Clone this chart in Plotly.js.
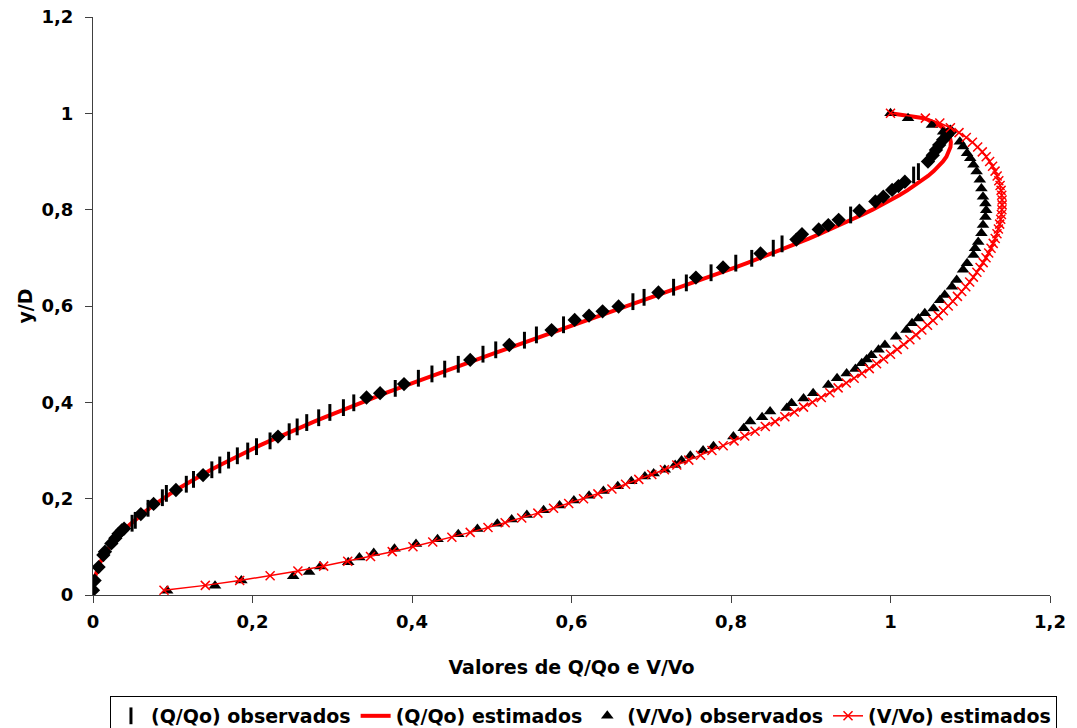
<!DOCTYPE html>
<html>
<head>
<meta charset="utf-8">
<script src="https://cdn.plot.ly/plotly-3.0.1.min.js"></script>
<style>
  html, body { margin: 0; padding: 0; background: #ffffff; }
  #chart { width: 1077px; height: 728px; }
</style>
</head>
<body>
<div id="chart"></div>
<script>
// Relative depth y/D for the estimated curves
const yD = [0.01,0.02,0.03,0.04,0.05,0.06,0.07,0.08,0.09,0.10,
            0.11,0.12,0.13,0.14,0.15,0.16,0.17,0.18,0.19,0.20,
            0.21,0.22,0.23,0.24,0.25,0.26,0.27,0.28,0.29,0.30,
            0.31,0.32,0.33,0.34,0.35,0.36,0.37,0.38,0.39,0.40,
            0.41,0.42,0.43,0.44,0.45,0.46,0.47,0.48,0.49,0.50,
            0.51,0.52,0.53,0.54,0.55,0.56,0.57,0.58,0.59,0.60,
            0.61,0.62,0.63,0.64,0.65,0.66,0.67,0.68,0.69,0.70,
            0.71,0.72,0.73,0.74,0.75,0.76,0.77,0.78,0.79,0.80,
            0.81,0.82,0.83,0.84,0.85,0.86,0.87,0.88,0.89,0.90,
            0.91,0.92,0.93,0.94,0.95,0.96,0.97,0.98,0.99,1.00];

// Estimated Q/Qo for each y/D
const qEst = [0.0002,0.0007,0.0016,0.0030,0.0048,0.0071,0.0098,0.0130,0.0167,0.0209,
              0.0255,0.0306,0.0361,0.0421,0.0486,0.0555,0.0629,0.0707,0.0789,0.0876,
              0.0966,0.1061,0.1160,0.1263,0.1370,0.1480,0.1595,0.1712,0.1834,0.1958,
              0.2086,0.2218,0.2352,0.2489,0.2629,0.2772,0.2918,0.3066,0.3217,0.3370,
              0.3525,0.3682,0.3842,0.4003,0.4165,0.4330,0.4495,0.4662,0.4831,0.5000,
              0.5170,0.5341,0.5513,0.5685,0.5857,0.6030,0.6202,0.6375,0.6547,0.6718,
              0.6889,0.7060,0.7229,0.7397,0.7564,0.7729,0.7893,0.8055,0.8215,0.8372,
              0.8527,0.8680,0.8829,0.8976,0.9119,0.9258,0.9394,0.9525,0.9652,0.9775,
              0.9892,1.0004,1.0110,1.0211,1.0304,1.0391,1.0471,1.0542,1.0605,1.0658,
              1.0701,1.0733,1.0752,1.0757,1.0745,1.0714,1.0657,1.0567,1.0420,1.0000];

// Estimated V/Vo for each y/D
const vEst = [0.0890,0.1408,0.1839,0.2221,0.2569,0.2892,0.3194,0.3480,0.3752,0.4012,
              0.4260,0.4500,0.4730,0.4953,0.5168,0.5376,0.5578,0.5775,0.5965,0.6151,
              0.6331,0.6507,0.6678,0.6844,0.7007,0.7165,0.7320,0.7471,0.7618,0.7761,
              0.7902,0.8038,0.8172,0.8302,0.8430,0.8554,0.8675,0.8794,0.8909,0.9022,
              0.9132,0.9239,0.9343,0.9445,0.9544,0.9640,0.9734,0.9825,0.9914,1.0000,
              1.0084,1.0165,1.0243,1.0319,1.0393,1.0464,1.0533,1.0599,1.0663,1.0724,
              1.0783,1.0839,1.0893,1.0944,1.0993,1.1039,1.1083,1.1123,1.1162,1.1198,
              1.1231,1.1261,1.1288,1.1313,1.1335,1.1353,1.1369,1.1382,1.1391,1.1397,
              1.1400,1.1399,1.1395,1.1387,1.1374,1.1358,1.1337,1.1311,1.1280,1.1243,
              1.1200,1.1151,1.1093,1.1027,1.0950,1.0859,1.0751,1.0618,1.0437,1.0000];

// Observed Q/Qo (dash marks)
const yQobs = [0.149,0.155,0.180,0.202,0.211,0.230,0.240,0.260,0.270,0.280,
               0.289,0.299,0.308,0.320,0.339,0.349,0.358,0.368,0.379,0.389,
               0.399,0.429,0.450,0.459,0.469,0.479,0.500,0.509,0.529,0.540,
               0.561,0.609,0.618,0.639,0.648,0.669,0.689,0.699,0.720,0.729,
               0.789,0.872,0.879];
const xQobs = [0.049,0.053,0.069,0.087,0.092,0.117,0.126,0.149,0.159,0.170,
               0.181,0.194,0.205,0.222,0.246,0.256,0.268,0.283,0.297,0.314,
               0.327,0.379,0.408,0.425,0.441,0.458,0.489,0.505,0.541,0.556,
               0.590,0.677,0.691,0.728,0.744,0.775,0.806,0.826,0.853,0.864,
               0.950,1.029,1.035];

// Observed Q/Qo (diamond marks)
const yQobsB = [0.010,0.030,0.058,0.083,0.090,0.107,0.118,0.127,0.134,0.138,
                0.168,0.189,0.218,0.249,0.329,0.410,0.419,0.438,0.488,0.519,
                0.550,0.571,0.580,0.589,0.599,0.628,0.659,0.680,0.709,0.738,
                0.749,0.759,0.768,0.779,0.798,0.817,0.827,0.841,0.849,0.858,
                0.900,0.913,0.924,0.934,0.945,0.955,0.962];
const xQobsB = [0.000,0.002,0.007,0.013,0.015,0.023,0.028,0.032,0.036,0.039,
                0.060,0.076,0.104,0.138,0.232,0.343,0.360,0.390,0.473,0.522,
                0.575,0.604,0.622,0.639,0.659,0.709,0.756,0.790,0.837,0.882,
                0.889,0.910,0.922,0.935,0.961,0.981,0.991,1.002,1.010,1.018,
                1.047,1.053,1.057,1.061,1.066,1.071,1.075];

// Observed V/Vo (triangle marks)
const yVobs = [0.009,0.019,0.030,0.039,0.048,0.059,0.068,0.078,0.087,0.096,
               0.106,0.116,0.126,0.137,0.148,0.157,0.166,0.176,0.186,0.196,
               0.206,0.216,0.226,0.236,0.246,0.252,0.260,0.270,0.279,0.289,
               0.300,0.309,0.329,0.346,0.360,0.369,0.381,0.388,0.398,0.408,
               0.419,0.436,0.450,0.460,0.469,0.481,0.489,0.498,0.509,0.519,
               0.536,0.550,0.564,0.574,0.585,0.595,0.612,0.623,0.640,0.654,
               0.675,0.689,0.706,0.720,0.733,0.751,0.768,0.785,0.799,0.813,
               0.827,0.844,0.862,0.879,0.893,0.907,0.917,0.931,0.941,0.962,
               0.976,0.990,1.000];
const xVobs = [0.093,0.153,0.186,0.251,0.271,0.285,0.320,0.334,0.352,0.378,
               0.405,0.432,0.458,0.482,0.507,0.525,0.544,0.565,0.585,0.603,
               0.622,0.640,0.658,0.675,0.692,0.703,0.717,0.730,0.738,0.749,
               0.765,0.778,0.803,0.816,0.824,0.839,0.849,0.870,0.876,0.891,
               0.903,0.922,0.933,0.945,0.956,0.964,0.970,0.976,0.985,0.993,
               1.007,1.020,1.027,1.035,1.043,1.054,1.062,1.068,1.077,1.083,
               1.091,1.096,1.104,1.106,1.110,1.114,1.116,1.119,1.120,1.119,
               1.116,1.114,1.112,1.108,1.104,1.100,1.096,1.091,1.087,1.066,
               1.052,1.022,1.000];

const RED = '#FF0000';
const BLACK = '#000000';
const FONT = 'DejaVu Sans, Verdana, sans-serif';

const traces = [
  {
    type: 'scatter', mode: 'lines', name: '(Q/Qo) estimados',
    x: qEst, y: yD,
    line: { color: RED, width: 4 },
    legendrank: 2
  },
  {
    type: 'scatter', mode: 'markers', name: '(Q/Qo) observados',
    x: xQobs, y: yQobs,
    marker: { symbol: 'line-ns', size: 12, color: BLACK, line: { color: BLACK, width: 3 } },
    legendrank: 1
  },
  {
    type: 'scatter', mode: 'markers', name: '(Q/Qo) observados',
    x: xQobsB, y: yQobsB,
    marker: { symbol: 'diamond', size: 11, color: BLACK },
    showlegend: false
  },
  {
    type: 'scatter', mode: 'markers', name: '(V/Vo) observados',
    x: xVobs, y: yVobs,
    marker: { symbol: 'triangle-up', size: 11, color: BLACK },
    legendrank: 3
  },
  {
    type: 'scatter', mode: 'lines+markers', name: '(V/Vo) estimados',
    x: vEst, y: yD,
    line: { color: RED, width: 1.5 },
    marker: { symbol: 'x-thin', size: 9, color: RED, line: { color: RED, width: 1.5 } },
    legendrank: 4
  }
];

const axisCommon = {
  range: [0, 1.2], dtick: 0.2, tick0: 0,
  showgrid: false, zeroline: false,
  showline: true, linecolor: '#404040', linewidth: 1,
  ticks: 'outside', ticklen: 7, tickcolor: '#404040', tickwidth: 1,
  tickfont: { family: FONT, size: 18, color: BLACK, weight: 'bold' },
  automargin: false, fixedrange: true
};

const layout = {
  width: 1077, height: 728,
  margin: { l: 93, r: 27, t: 17, b: 133, autoexpand: false },
  paper_bgcolor: '#ffffff', plot_bgcolor: '#ffffff',
  separators: ',.',
  font: { family: FONT, color: BLACK },
  showlegend: true,
  xaxis: Object.assign({}, axisCommon, {
    ticklabelstandoff: 3,
    title: { text: 'Valores de Q/Qo e V/Vo', font: { family: FONT, size: 19, weight: 'bold', color: BLACK }, standoff: 30 }
  }),
  yaxis: Object.assign({}, axisCommon, {
    ticklabelstandoff: 8,
    title: { text: 'y/D', font: { family: FONT, size: 19, weight: 'bold', color: BLACK }, standoff: 3 }
  }),
  legend: {
    orientation: 'h', traceorder: 'normal',
    x: 0.5125, xanchor: 'center', y: -0.1747, yanchor: 'top',
    bgcolor: '#ffffff', bordercolor: BLACK, borderwidth: 1,
    font: { family: FONT, size: 19, weight: 'bold', color: BLACK }
  }
};

Plotly.newPlot('chart', traces, layout, { displayModeBar: false, staticPlot: true });
</script>
</body>
</html>
